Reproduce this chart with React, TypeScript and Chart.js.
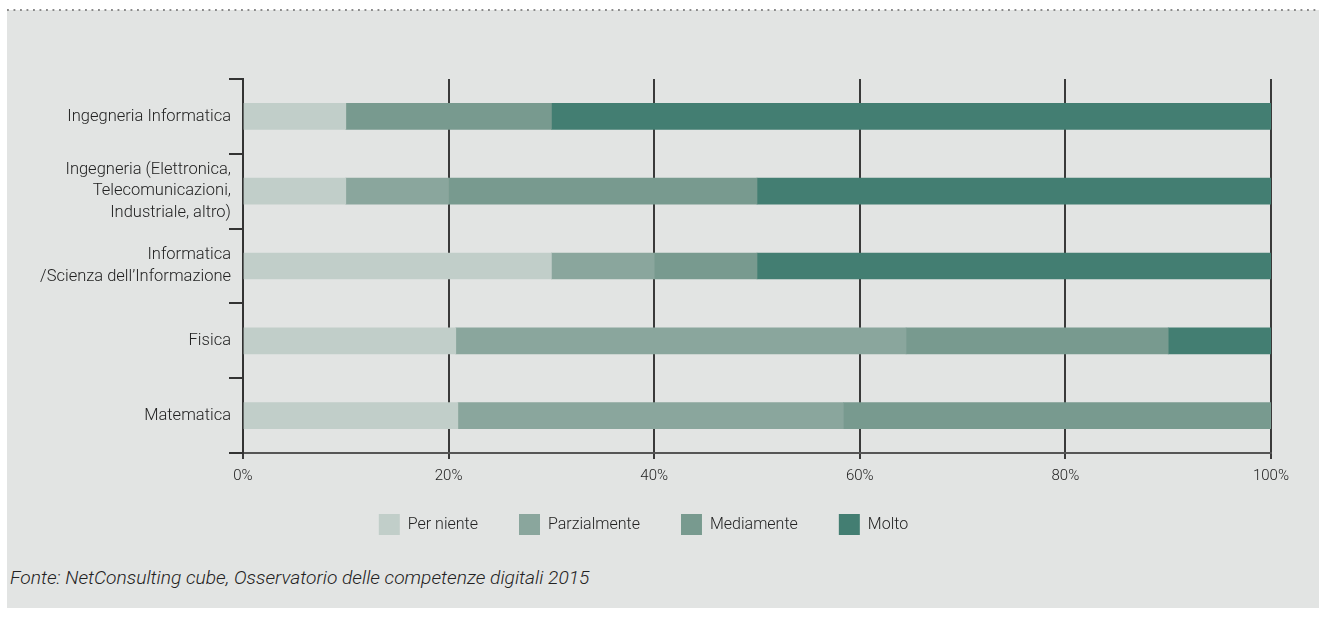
import React, { useEffect, useRef } from 'react';
import { Chart, registerables } from 'chart.js';

Chart.register(...registerables);

const categories: (string | string[])[] = [
  'Ingegneria Informatica',
  ['Ingegneria (Elettronica,', 'Telecomunicazioni,', 'Industriale, altro)'],
  ['Informatica', '/Scienza dell’Informazione'],
  'Fisica',
  'Matematica',
];
const seriesNames = ['Per niente', 'Parzialmente', 'Mediamente', 'Molto'];
const perNiente = [10, 10, 30, 20.7, 20.9];
const parzialmente = [0, 10, 10, 43.8, 37.5];
const mediamente = [20, 30, 10, 25.5, 41.6];
const molto = [70, 50, 50, 10, 0];
const xTickStep = 20;
const seriesColors = ['#c1cec9', '#8aa69d', '#789a8f', '#437e72'];
const sourceText = 'Fonte: NetConsulting cube, Osservatorio delle competenze digitali 2015';

const LEGEND_SHIFT = 13;
const legendShift = {
  id: 'legendShift',
  afterLayout(chart: any) {
    if (chart.legend) {
      chart.legend.top -= LEGEND_SHIFT;
      chart.legend.bottom -= LEGEND_SHIFT;
    }
  },
};

export default function App() {
  const canvasRef = useRef<HTMLCanvasElement | null>(null);

  useEffect(() => {
    if (!canvasRef.current) return;
    const values = [perNiente, parzialmente, mediamente, molto];
    const chart = new Chart(canvasRef.current, {
      type: 'bar',
      data: {
        labels: categories,
        datasets: seriesNames.map((name, i) => ({
          label: name,
          data: values[i],
          backgroundColor: seriesColors[i],
          borderWidth: 0,
          barThickness: 26,
        })),
      },
      plugins: [legendShift],
      options: {
        indexAxis: 'y',
        responsive: false,
        animation: false,
        layout: { padding: { left: 9, right: 48, top: 69, bottom: 0 } },
        scales: {
          x: {
            stacked: true,
            min: 0,
            max: 100,
            ticks: {
              stepSize: xTickStep,
              callback: (v: any) => v + '%',
              color: '#222',
              font: { family: 'Roboto', size: 15, weight: '300' as any },
              padding: 8,
            },
            grid: { color: '#3a3a3a', lineWidth: 2, tickLength: 6 },
            border: { color: '#555', width: 2 },
            afterFit: (s: any) => { s.height = 33; },
          },
          y: {
            stacked: true,
            ticks: {
              color: '#222',
              font: { family: 'Roboto', size: 16.5, weight: '300' as any, lineHeight: 1.3 },
              padding: -2,
            },
            grid: { drawOnChartArea: false, offset: true, color: '#333', lineWidth: 2, tickLength: 14 },
            border: { color: '#333', width: 2 },
            afterFit: (s: any) => { s.width = 227; },
          },
        },
        plugins: {
          tooltip: { enabled: false },
          legend: {
            position: 'bottom',
            labels: {
              boxWidth: 21,
              boxHeight: 21,
              padding: 41,
              color: '#222',
              font: { family: 'Roboto', size: 16, weight: '300' as any },
            },
          },
        },
      },
    } as any);
    return () => chart.destroy();
  }, []);

  return (
    <div style={{ position: 'absolute', left: 0, top: 0, width: 1319, height: 620, background: '#fff', overflow: 'hidden' }}>
      <div
        style={{
          position: 'absolute', left: 7, top: 10, width: 1312, height: 598, background: '#e2e4e3',
        }}
      />
      <div
        style={{
          position: 'absolute', left: 7, top: 9, width: 1312, height: 2,
          backgroundImage: 'linear-gradient(to right, #8a8a8a 0px, #8a8a8a 2px, transparent 2px)',
          backgroundSize: '6.5px 2px',
        }}
      />
      <canvas
        ref={canvasRef}
        width={1312}
        height={548}
        style={{ position: 'absolute', left: 7, top: 10, width: 1312, height: 548 }}
      />
      <div
        style={{
          position: 'absolute', left: 10, top: 566, fontFamily: 'Roboto', fontStyle: 'italic', fontWeight: 300,
          fontSize: 19.2, color: '#222', whiteSpace: 'nowrap', lineHeight: '24px',
        }}
      >
        {sourceText}
      </div>
    </div>
  );
}
